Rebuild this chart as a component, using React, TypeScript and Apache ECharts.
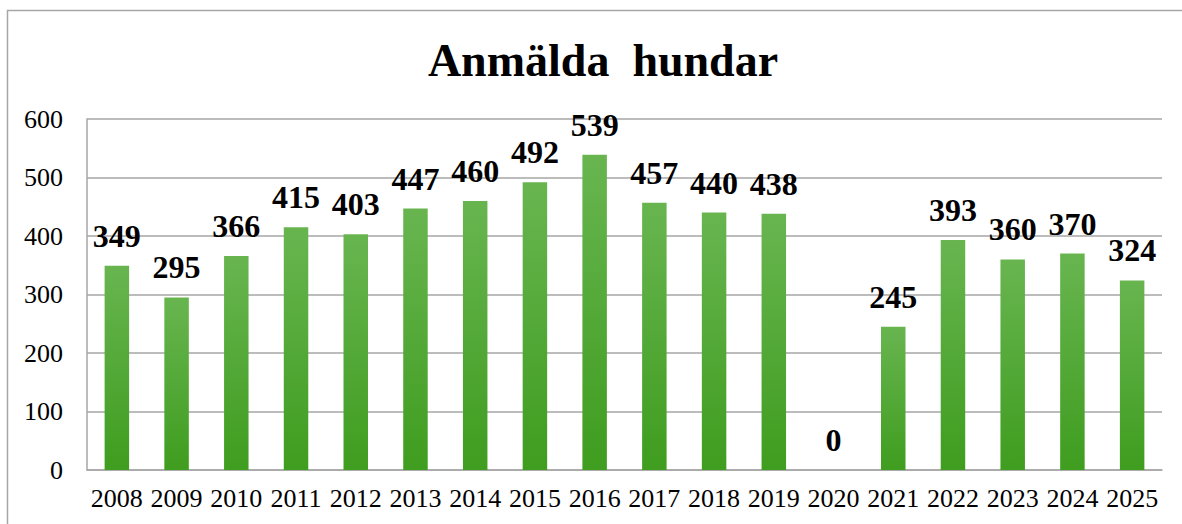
import React, { useEffect, useRef } from "react";
import * as echarts from "echarts";

const categories = ["2008","2009","2010","2011","2012","2013","2014","2015","2016","2017","2018","2019","2020","2021","2022","2023","2024","2025"];
const values = [349,295,366,415,403,447,460,492,539,457,440,438,0,245,393,360,370,324];
const titleText = "Anmälda  hundar";
const yMin = 0;
const yMax = 600;
const yInterval = 100;

const FONT = "'Liberation Serif', 'Times New Roman', serif";

export default function App() {
  const ref = useRef<HTMLDivElement>(null);
  useEffect(() => {
    document.body.style.margin = "0";
    const chart = echarts.init(ref.current!, null, { renderer: "svg" });
    chart.setOption({
      animation: false,
      backgroundColor: "#ffffff",
      title: {
        text: titleText,
        left: 598,
        textAlign: "center",
        top: 32,
        textStyle: { fontFamily: FONT, fontSize: 46, fontWeight: "bold", color: "#000" },
      },
      graphic: [
        {
          type: "rect",
          shape: { x: 7.5, y: 10.5, width: 1300, height: 700 },
          style: { fill: "none", stroke: "#a6a6a6", lineWidth: 1.5 },
          silent: true,
          z: -1,
        },
      ],
      grid: { left: 87, right: 20, top: 119, bottom: 54, containLabel: false },
      xAxis: {
        type: "category",
        data: categories,
        axisLine: { show: true, lineStyle: { color: "#a6a6a6", width: 1.5 } },
        axisTick: { show: false },
        axisLabel: { fontFamily: FONT, fontSize: 26, color: "#000", margin: 15, interval: 0 },
      },
      yAxis: {
        type: "value",
        min: yMin,
        max: yMax,
        interval: yInterval,
        axisLine: { show: true, lineStyle: { color: "#a6a6a6", width: 1.5 } },
        axisTick: { show: false },
        splitLine: { show: true, lineStyle: { color: "#a6a6a6", width: 1.5 } },
        axisLabel: { fontFamily: FONT, fontSize: 26, color: "#000", margin: 24 },
      },
      series: [
        {
          type: "bar",
          data: values,
          barWidth: "41%",
          itemStyle: {
            color: new echarts.graphic.LinearGradient(0, 0, 0, 1, [
              { offset: 0, color: "#68b550" },
              { offset: 1, color: "#3f9d1f" },
            ]),
          },
          label: {
            show: true,
            position: "top",
            distance: 14,
            fontFamily: FONT,
            fontSize: 32,
            fontWeight: "bold",
            color: "#000",
          },
        },
      ],
    });
    return () => chart.dispose();
  }, []);
  return <div ref={ref} style={{ position: "fixed", left: 0, top: 0, width: 1182, height: 524 }} />;
}
